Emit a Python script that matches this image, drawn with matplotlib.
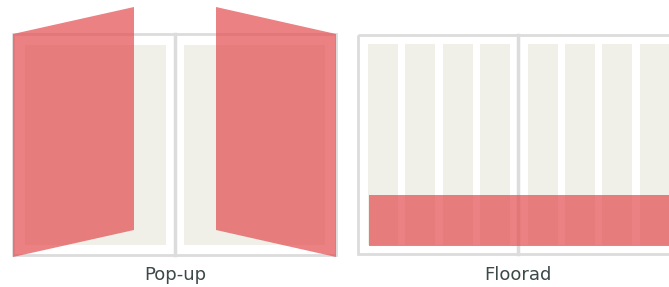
import matplotlib.pyplot as plt
from matplotlib.patches import Rectangle, Polygon

# frames (x0, y0, x1, y1) in picture units, y grows downwards
frames = [(13, 34, 336, 255), (358, 35, 690, 254)]
dividers = [175, 518]

# pop-up: two pages and two flaps
popup_pages = [(25, 45, 166, 245), (184, 45, 325, 245)]
flap_left = [(13, 34), (134, 7), (134, 230), (13, 257)]
flap_right = [(216, 7), (336, 34), (336, 257), (216, 230)]

# floorad: columns and the floor bar
col_left = [368, 405, 443, 480, 528, 565, 602, 640]
col_width = 30
col_top, col_bottom = 44, 245
floor_bar = (369, 195, 690, 246)

labels = ["Pop-up", "Floorad"]
label_x = [175, 518]

frame_col = "#dcdcdc"
page_col = "#f0f0e8"
red = "#e45052"

fig = plt.figure(figsize=(6.69, 2.87), dpi=100)
ax = fig.add_axes([0, 0, 1, 1])
ax.set_xlim(0, 669)
ax.set_ylim(287, 0)
ax.axis("off")

def rect(box, **kw):
    x0, y0, x1, y1 = box
    return Rectangle((x0, y0), x1 - x0, y1 - y0, **kw)

for f, d in zip(frames, dividers):
    ax.add_patch(rect(f, fill=False, edgecolor=frame_col, linewidth=2, zorder=1))
    ax.plot([d, d], [f[1], f[3]], color=frame_col, linewidth=2.5, zorder=1)

for p in popup_pages:
    ax.add_patch(rect(p, facecolor=page_col, edgecolor="none", zorder=2))

for x in col_left:
    ax.add_patch(rect((x, col_top, x + col_width, col_bottom),
                      facecolor=page_col, edgecolor="none", zorder=2))

for flap in (flap_left, flap_right):
    ax.add_patch(Polygon(flap, closed=True, facecolor=red, alpha=0.72,
                         edgecolor="none", zorder=3))

ax.add_patch(rect(floor_bar, facecolor=red, alpha=0.72, edgecolor="none", zorder=3))

for t, x in zip(labels, label_x):
    ax.text(x, 275, t, ha="center", va="center", fontsize=13,
            color="#3d4848", family="DejaVu Sans")

fig.savefig("out.png", dpi=100)
